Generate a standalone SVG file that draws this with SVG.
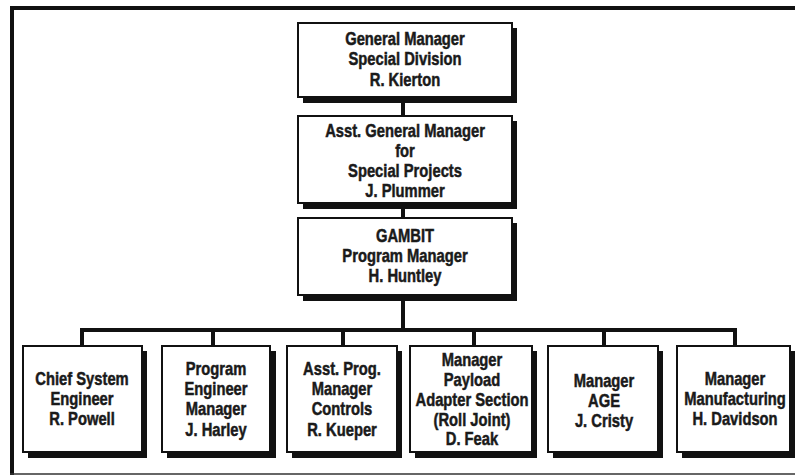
<svg xmlns="http://www.w3.org/2000/svg" width="795" height="476" viewBox="0 0 795 476">
<defs>
<style>
.shadow{fill:#111}
.box{fill:#fff;stroke:#111;stroke-width:2}
.conn{stroke:#111;stroke-width:4;fill:none}
text{font-family:"Liberation Sans",Arial,sans-serif;font-weight:bold;font-size:18px;fill:#1a1a1a;stroke:#1a1a1a;stroke-width:0.5;text-anchor:middle}
</style>
</defs>
<rect width="795" height="476" fill="#fff"/>
<g id="frame">
<line x1="10" y1="8" x2="795" y2="8" stroke="#111" stroke-width="4"/>
<line x1="12" y1="6" x2="12" y2="475" stroke="#111" stroke-width="4"/>
<line x1="10" y1="474" x2="795" y2="474" stroke="#333" stroke-width="1.5"/>
</g>
<g id="connectors">
<line class="conn" x1="403" y1="97" x2="403" y2="116"/>
<line class="conn" x1="403" y1="203" x2="403" y2="218"/>
<line class="conn" x1="403" y1="295" x2="403" y2="330"/>
<line class="conn" x1="80" y1="330" x2="737" y2="330"/>
<line class="conn" x1="82" y1="328" x2="82" y2="346"/>
<line class="conn" x1="213" y1="328" x2="213" y2="346"/>
<line class="conn" x1="343" y1="328" x2="343" y2="346"/>
<line class="conn" x1="474" y1="328" x2="474" y2="346"/>
<line class="conn" x1="604" y1="328" x2="604" y2="346"/>
<line class="conn" x1="735" y1="328" x2="735" y2="346"/>
</g>
<g id="gm">
<rect class="shadow" x="303" y="28" width="214" height="75"/>
<rect class="box" x="298" y="23" width="214" height="74"/>
<g transform="translate(405 0) scale(0.82 1)">
<text x="0" y="45">General Manager</text>
<text x="0" y="65.5">Special Division</text>
<text x="0" y="86">R. Kierton</text>
</g>
</g>
<g id="agm">
<rect class="shadow" x="303" y="121" width="214" height="88"/>
<rect class="box" x="298" y="116" width="214" height="87"/>
<g transform="translate(405 0) scale(0.82 1)">
<text x="0" y="137">Asst. General Manager</text>
<text x="0" y="157">for</text>
<text x="0" y="177">Special Projects</text>
<text x="0" y="197">J. Plummer</text>
</g>
</g>
<g id="pm">
<rect class="shadow" x="303" y="223" width="214" height="78"/>
<rect class="box" x="298" y="218" width="214" height="77"/>
<g transform="translate(405 0) scale(0.82 1)">
<text x="0" y="242">GAMBIT</text>
<text x="0" y="262">Program Manager</text>
<text x="0" y="282">H. Huntley</text>
</g>
</g>
<g id="cse">
<rect class="shadow" x="28" y="351" width="119" height="107"/>
<rect class="box" x="23" y="346" width="119" height="106"/>
<g transform="translate(82 0) scale(0.82 1)">
<text x="0" y="385">Chief System</text>
<text x="0" y="405">Engineer</text>
<text x="0" y="425">R. Powell</text>
</g>
</g>
<g id="pem">
<rect class="shadow" x="167" y="351" width="109" height="107"/>
<rect class="box" x="162" y="346" width="108" height="106"/>
<g transform="translate(216 0) scale(0.82 1)">
<text x="0" y="375">Program</text>
<text x="0" y="395">Engineer</text>
<text x="0" y="415.5">Manager</text>
<text x="0" y="436">J. Harley</text>
</g>
</g>
<g id="apm">
<rect class="shadow" x="292" y="351" width="110" height="107"/>
<rect class="box" x="287" y="346" width="110" height="106"/>
<g transform="translate(342 0) scale(0.82 1)">
<text x="0" y="375">Asst. Prog.</text>
<text x="0" y="395">Manager</text>
<text x="0" y="415.5">Controls</text>
<text x="0" y="436">R. Kueper</text>
</g>
</g>
<g id="pas">
<rect class="shadow" x="415" y="351" width="122" height="107"/>
<rect class="box" x="410" y="346" width="122" height="106"/>
<g transform="translate(472 0) scale(0.82 1)">
<text x="0" y="366">Manager</text>
<text x="0" y="386">Payload</text>
<text x="0" y="406">Adapter Section</text>
<text x="0" y="426">(Roll Joint)</text>
<text x="0" y="445">D. Feak</text>
</g>
</g>
<g id="age">
<rect class="shadow" x="553" y="351" width="110" height="107"/>
<rect class="box" x="548" y="346" width="110" height="106"/>
<g transform="translate(604 0) scale(0.82 1)">
<text x="0" y="387">Manager</text>
<text x="0" y="407">AGE</text>
<text x="0" y="427">J. Cristy</text>
</g>
</g>
<g id="mfg">
<rect class="shadow" x="682" y="351" width="114" height="107"/>
<rect class="box" x="677" y="346" width="113" height="106"/>
<g transform="translate(735 0) scale(0.82 1)">
<text x="0" y="385">Manager</text>
<text x="0" y="405">Manufacturing</text>
<text x="0" y="425">H. Davidson</text>
</g>
</g>
</svg>
